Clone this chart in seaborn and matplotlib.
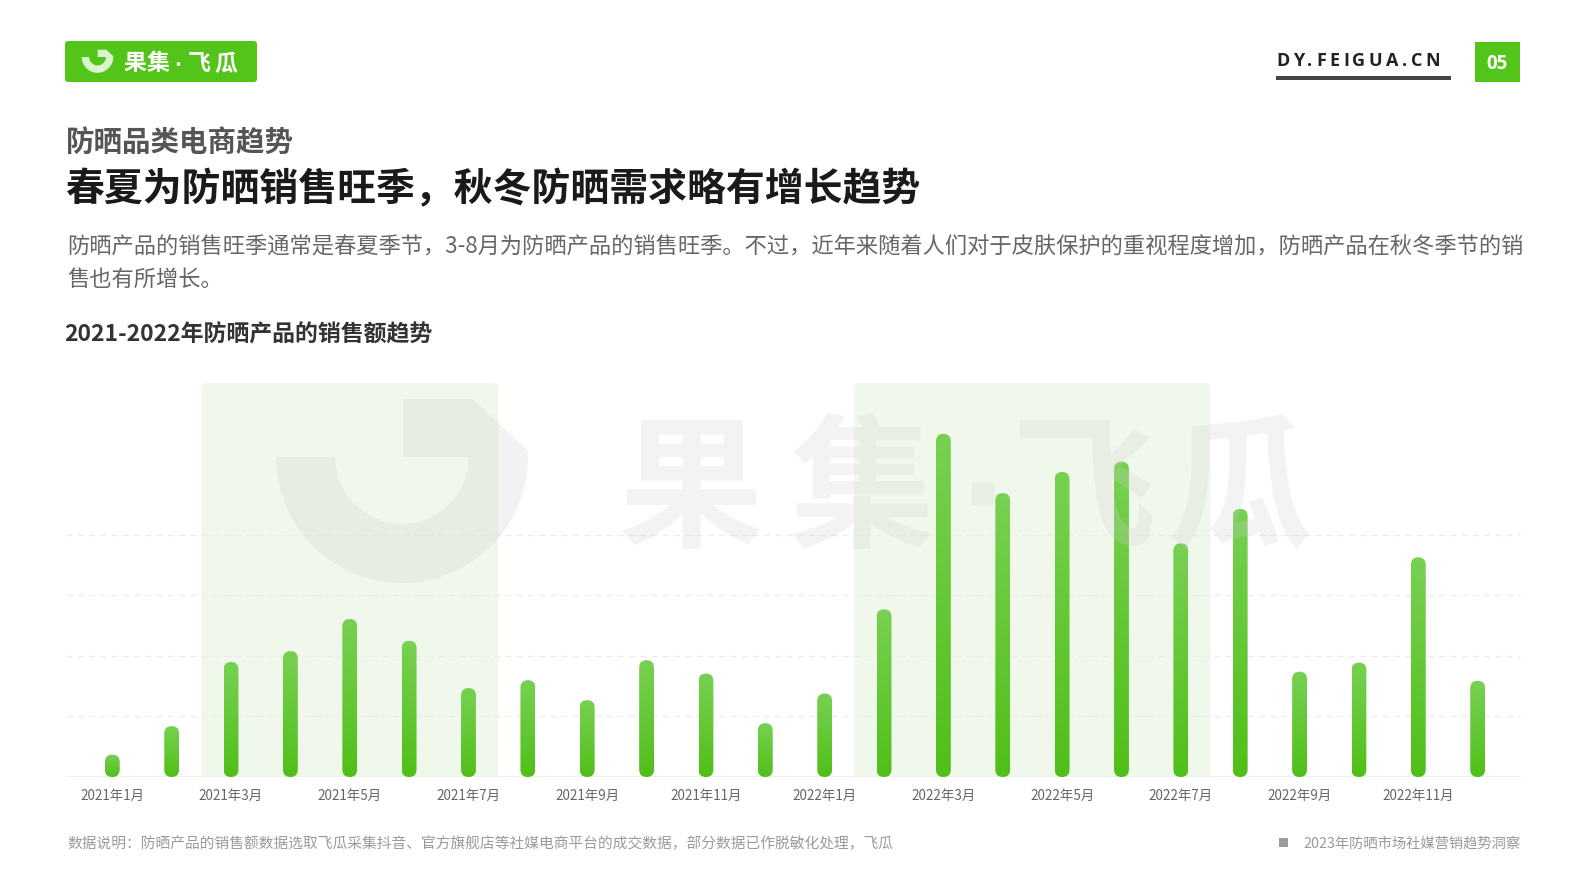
import numpy as np
import pandas as pd
import matplotlib
matplotlib.use("Agg")
import matplotlib.pyplot as plt
import seaborn as sns
from matplotlib.patches import FancyBboxPatch, Polygon, Rectangle
from matplotlib.transforms import IdentityTransform
from matplotlib.colors import LinearSegmentedColormap

# ---------------- data ----------------
months = ["2021年1月", "2021年2月", "2021年3月", "2021年4月", "2021年5月", "2021年6月",
          "2021年7月", "2021年8月", "2021年9月", "2021年10月", "2021年11月", "2021年12月",
          "2022年1月", "2022年2月", "2022年3月", "2022年4月", "2022年5月", "2022年6月",
          "2022年7月", "2022年8月", "2022年9月", "2022年10月", "2022年11月", "2022年12月"]
sales = [37, 84, 190, 208, 261, 225, 147, 160, 127, 193, 171, 89,
         138, 277, 567, 469, 504, 521, 386, 443, 174, 189, 363, 159]
tick_labels = ["2021年1月", "2021年3月", "2021年5月", "2021年7月", "2021年9月", "2021年11月",
               "2022年1月", "2022年3月", "2022年5月", "2022年7月", "2022年9月", "2022年11月"]
season_ranges = [("2021年3月", "2021年7月"), ("2022年2月", "2022年7月")]
grid_values = [100, 200, 300, 400]

brand_chars = ["果", "集", "·", "飞", "瓜"]
site_text = "DY.FEIGUA.CN"
page_no = "05"
section_title = "防晒品类电商趋势"
main_title = "春夏为防晒销售旺季，秋冬防晒需求略有增长趋势"
para_lines = ["防晒产品的销售旺季通常是春夏季节，3-8月为防晒产品的销售旺季。不过，近年来随着人们对于皮肤保护的重视程度增加，防晒产品在秋冬季节的销",
              "售也有所增长。"]
chart_title = "2021-2022年防晒产品的销售额趋势"
footer_left = "数据说明：防晒产品的销售额数据选取飞瓜采集抖音、官方旗舰店等社媒电商平台的成交数据，部分数据已作脱敏化处理，飞瓜"
footer_right = "2023年防晒市场社媒营销趋势洞察"

# ---------------- style ----------------
W, H = 1587, 892
GREEN = "#52c41a"
sns.set_theme(style="white")
plt.rcParams['font.family'] = ['Noto Sans CJK SC', 'DejaVu Sans']

fig = plt.figure(figsize=(W / 100, H / 100), dpi=100)
fig.patch.set_facecolor("white")


def fx(x):
    return x / W


def fy(y):
    return 1 - y / H


def logo_polygon(cx, cy, R, r_frac=0.53, **kw):
    """Ring-style logo, given in top-left pixel coordinates; returns a Polygon in display coords."""
    r = R * r_frac
    pts = []
    for th in np.linspace(np.pi, 0, 60):
        pts.append((cx + R * np.cos(th), cy + R * np.sin(th)))
    pts += [(cx + R, cy - 0.05 * R), (cx + 0.56 * R, cy - 0.46 * R),
            (cx + 0.01 * R, cy - 0.46 * R), (cx + 0.01 * R, cy), (cx + r, cy)]
    for th in np.linspace(0, np.pi, 40):
        pts.append((cx + r * np.cos(th), cy + r * np.sin(th)))
    pts = [(x, H - y) for x, y in pts]
    return Polygon(pts, closed=True, transform=IdentityTransform(), **kw)


def brand(chars, xs, yc, size, color, dot_size, weight, alpha=1.0, zorder=6):
    for ch, x in zip(chars, xs):
        if ch == "·":
            fig.add_artist(FancyBboxPatch((x - dot_size / 2, H - yc - dot_size / 2), dot_size, dot_size,
                                          boxstyle=f"round,pad=0,rounding_size={dot_size * 0.12}",
                                          transform=IdentityTransform(), facecolor=color,
                                          alpha=alpha, lw=0, zorder=zorder))
        else:
            fig.text(fx(x), fy(yc), ch, fontsize=size, fontweight=weight, color=color,
                     alpha=alpha, ha="center", va="center", zorder=zorder)


# ---------------- chart ----------------
ax = fig.add_axes([fx(66), fy(777), (1521 - 66) / W, (777 - 383) / H])
ax.set_facecolor("none")
df = pd.DataFrame({"month": months, "sales": sales})
sns.barplot(data=df, x="month", y="sales", order=months, width=0.25,
            color=GREEN, saturation=1, ax=ax, zorder=3)
bars = list(ax.patches)
XL = (-0.78, 23.73)
YL = (0, 651)
ax.set_xlim(*XL)
ax.set_ylim(*YL)

for a, b in season_ranges:
    x0 = months.index(a) - 0.5
    x1 = months.index(b) + 0.5
    (qx0, qy0), (qx1, qy1) = ax.transData.transform([(x0, 0), (x1, YL[1])])
    ax.add_patch(FancyBboxPatch((qx0, qy0 - 6), qx1 - qx0, qy1 - qy0 + 6,
                                boxstyle="round,pad=0,rounding_size=5",
                                transform=IdentityTransform(), facecolor="#f0f8eb",
                                lw=0, zorder=0))
for v in grid_values:
    ax.axhline(v, color="#ececec", lw=0.9, ls=(0, (5, 4)), zorder=0.5)
ax.axhline(0, color="#eeeeee", lw=1.2, zorder=0.6)

cmap = LinearSegmentedColormap.from_list("g", ["#50bf18", "#78d152"])
grad = np.linspace(0, 1, 256).reshape(-1, 1)
for p in bars:
    x0, w, h = p.get_x(), p.get_width(), p.get_height()
    (px0, py0), (px1, py1) = ax.transData.transform([(x0, 0), (x0 + w, h)])
    pw, ph = px1 - px0, py1 - py0
    clip = FancyBboxPatch((px0, py0), pw, ph,
                          boxstyle=f"round,pad=0,rounding_size={pw / 2}",
                          transform=IdentityTransform())
    im = ax.imshow(grad, extent=(x0, x0 + w, 0, h), origin="lower", cmap=cmap,
                   aspect="auto", zorder=3, interpolation="bilinear")
    im.set_clip_path(clip)
    p.set_visible(False)

ax.set_xlim(*XL)
ax.set_ylim(*YL)
ax.set_xticks([months.index(t) for t in tick_labels])
ax.set_xticklabels(tick_labels, fontsize=9.7, color="#666666")
ax.tick_params(axis="x", length=0, pad=8.5)
ax.set_yticks([])
ax.set_xlabel("")
ax.set_ylabel("")
for s in ax.spines.values():
    s.set_visible(False)

# ---------------- watermark ----------------
wm_color = "#cfcfcf"
fig.add_artist(logo_polygon(402, 457, 126, facecolor=wm_color, alpha=0.26, lw=0, zorder=5))
brand(brand_chars, [691, 862, 983, 1083, 1240], 494, 104, wm_color, 23, "bold", alpha=0.24)

# ---------------- header ----------------
fig.add_artist(FancyBboxPatch((65, H - 82), 192, 41, boxstyle="round,pad=0,rounding_size=3",
                              transform=IdentityTransform(), facecolor=GREEN, lw=0))
fig.add_artist(logo_polygon(97.5, 57, 15.8, facecolor="#dbf3ce", lw=0, zorder=3))
brand(brand_chars, [134.5, 158, 178.5, 199, 226], 64, 16.5, "white", 3.5, "bold")

renderer = fig.canvas.get_renderer()
widths = []
for ch in site_text:
    t = fig.text(0, 0, ch, fontsize=13, fontweight="bold", family="Open Sans")
    widths.append(t.get_window_extent(renderer).width)
    t.remove()
gap = ((1440 - 1276) - sum(widths)) / (len(site_text) - 1)
xx = 1276
for ch, wd in zip(site_text, widths):
    fig.text(fx(xx), fy(61), ch, fontsize=13, fontweight="bold", family="Open Sans",
             color="#222222", ha="left", va="center")
    xx += wd + gap
fig.add_artist(Rectangle((1276, H - 80), 175, 4, transform=IdentityTransform(),
                         facecolor="#444444", lw=0))
fig.add_artist(Rectangle((1475, H - 82), 45, 40, transform=IdentityTransform(),
                         facecolor=GREEN, lw=0))
fig.text(fx(1497.5), fy(64), page_no, fontsize=13.5, fontweight="bold", family="Open Sans",
         color="white", ha="center", va="center")

# ---------------- titles ----------------
fig.text(fx(66), fy(142.5), section_title, fontsize=20.5, fontweight="bold", color="#555555",
         ha="left", va="center")
fig.text(fx(65), fy(190), main_title, fontsize=28, fontweight="heavy", color="#1a1a1a",
         ha="left", va="center")
for i, line in enumerate(para_lines):
    fig.text(fx(67), fy(247.5 + 32 * i), line, fontsize=16, color="#666666", ha="left", va="center")
fig.text(fx(64), fy(335.5), chart_title, fontsize=16.5, fontweight="bold", color="#333333",
         ha="left", va="center")

# ---------------- footer ----------------
fig.text(fx(67), fy(844), footer_left, fontsize=10.6, color="#9a9a9a", ha="left", va="center")
fig.text(fx(1521), fy(844), footer_right, fontsize=10.3, color="#9a9a9a", ha="right", va="center")
fig.add_artist(Rectangle((1279, H - 847), 9, 9, transform=IdentityTransform(),
                         facecolor="#9a9a9a", lw=0))

fig.savefig("out.png", dpi=100, facecolor="white")
